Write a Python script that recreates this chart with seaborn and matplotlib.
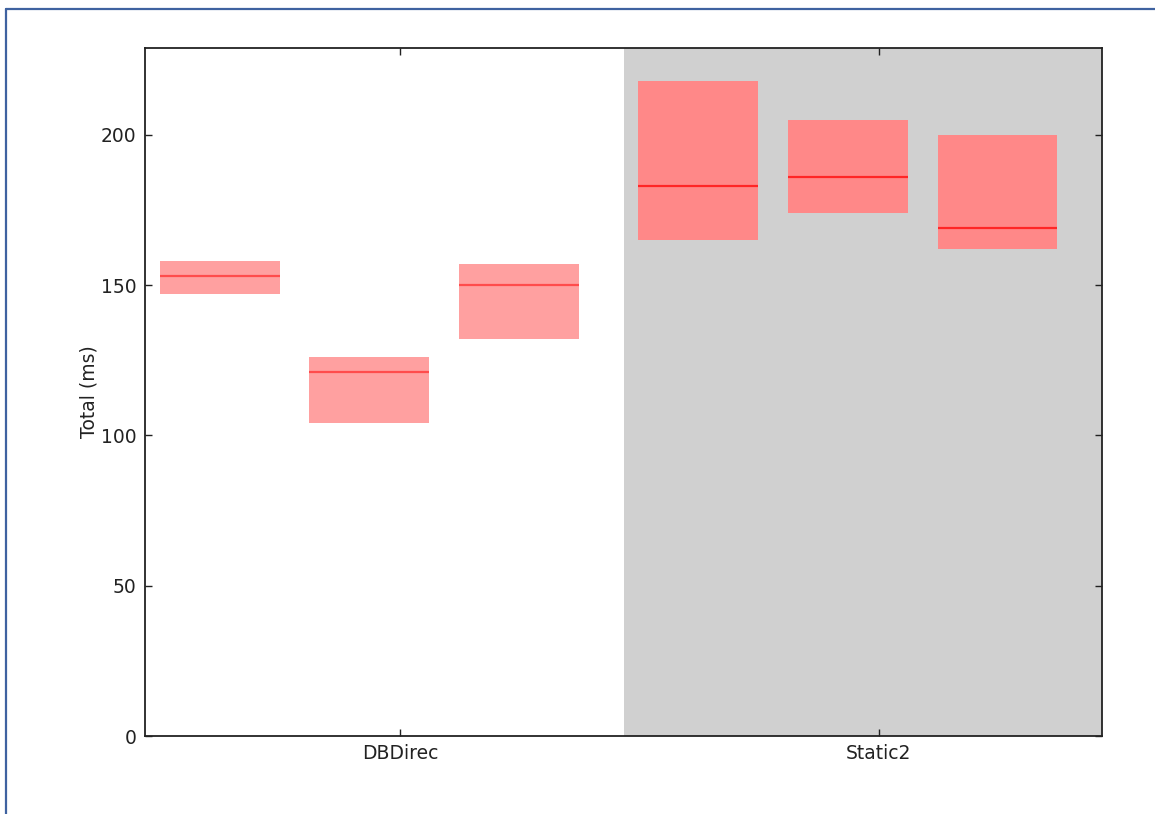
import numpy as np
import pandas as pd
import matplotlib
matplotlib.use("Agg")
import matplotlib.pyplot as plt
from matplotlib.lines import Line2D
import seaborn as sns

# Request timings per configuration: three runs for each backend
groups = ["DBDirec", "Static2"]
lows = [147, 104, 132, 165, 174, 162]
medians = [153, 121, 150, 183, 186, 169]
highs = [158, 126, 157, 218, 205, 200]
runs_per_group = 3

box_colors = ["#ffa0a0", "#ff8888"]
median_colors = ["#ff4c4c", "#ff2626"]

sns.set_theme(style="ticks")
plt.rcParams["font.family"] = ["DejaVu Sans"]
plt.rcParams.update({
    "xtick.direction": "in",
    "ytick.direction": "in",
    "xtick.top": True,
    "ytick.right": True,
    "axes.edgecolor": "#222222",
    "axes.linewidth": 1.3,
})

# Run slots inside each group span [g, g+1]
slot = np.arange(runs_per_group) * 10 + 5
positions = np.concatenate([g + slot / 32.0 for g in range(len(groups))])

df = pd.DataFrame({
    "group": np.repeat(groups, runs_per_group),
    "pos": positions,
    "low": lows,
    "median": medians,
    "height": np.array(highs) - np.array(lows),
})

fig = plt.figure(figsize=(11.55, 8.14), dpi=100)
ax = fig.add_axes([145 / 1155, 1 - 736 / 814, (1102 - 145) / 1155, (736 - 48) / 814])

# Background for the second configuration
ax.axvspan(1, 2, color="#d0d0d0", zorder=0, linewidth=0)

half = 0.125
for g, name in enumerate(groups):
    sub = df[df["group"] == name].sort_values("pos")
    sns.barplot(
        data=sub, x="pos", y="height", native_scale=True, width=0.8,
        errorbar=None, color=box_colors[g], saturation=1, linewidth=0,
        bottom=sub["low"].to_numpy(dtype=float), ax=ax, zorder=2,
    )
    ax.hlines(sub["median"], sub["pos"] - half, sub["pos"] + half,
              colors=median_colors[g], linewidth=1.6, zorder=3)

ax.set_xlim(0, 2)
ax.set_ylim(0, max(highs) * 1.05)
ax.set_yticks([0, 50, 100, 150, 200])
ax.set_xticks([g + 0.533 for g in range(len(groups))])
ax.set_xticklabels(groups)
ax.set_xlabel("")
ax.set_ylabel("Total (ms)", fontsize=13.5, color="#222222", labelpad=2)
ax.tick_params(axis="both", labelsize=13.5, colors="#222222", length=5,
               width=1, pad=6)
for s in ax.spines.values():
    s.set_visible(True)
    s.set_zorder(5)

# Window frame lines along the top and left edges
fig.add_artist(Line2D([6 / 1155, 6 / 1155], [0, 1 - 9 / 814],
                      transform=fig.transFigure, color="#3f62a0", linewidth=1.6))
fig.add_artist(Line2D([6 / 1155, 1], [1 - 9 / 814, 1 - 9 / 814],
                      transform=fig.transFigure, color="#3f62a0", linewidth=1.6))

fig.savefig("out.png", dpi=100)
